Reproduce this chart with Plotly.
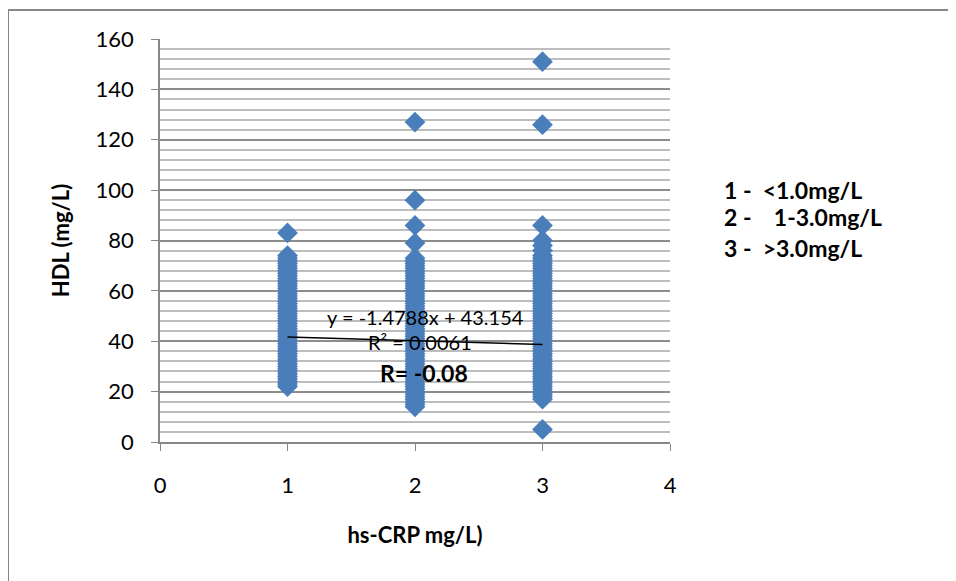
import plotly.graph_objects as go

# hs-CRP group codes
group_codes = [1, 2, 3]

# HDL values (mg/L) read per group
hdl_group1 = [83, 74, 73, 72, 71, 70, 69, 68, 67, 66, 65, 64, 63, 62, 61, 60, 59, 58, 57, 56,
              55, 54, 53, 52, 51, 50, 49, 48, 47, 46, 45, 44, 43, 42, 41, 40, 39, 38, 37, 36,
              35, 34, 33, 32, 31, 30, 29, 28, 27, 26, 25, 24, 23, 22]
hdl_group2 = [127, 96, 86, 79, 73, 72, 71, 70, 69, 68, 67, 66, 65, 64, 63, 62, 61, 60, 59, 58,
              57, 56, 55, 54, 53, 52, 51, 50, 49, 48, 47, 46, 45, 44, 43, 42, 41, 40, 39, 38,
              37, 36, 35, 34, 33, 32, 31, 30, 29, 28, 27, 26, 25, 24, 23, 22, 21, 20, 19, 18,
              17, 16, 15, 14]
hdl_group3 = [151, 126, 86, 80, 78, 76, 74, 73, 72, 71, 70, 69, 68, 67, 66, 65, 64, 63, 62, 61,
              60, 59, 58, 57, 56, 55, 54, 53, 52, 51, 50, 49, 48, 47, 46, 45, 44, 43, 42, 41,
              40, 39, 38, 37, 36, 35, 34, 33, 32, 31, 30, 29, 28, 27, 26, 25, 24, 23, 22, 21,
              20, 19, 18, 17, 5]

# Linear trendline shown on the chart
trend_slope = -1.4788
trend_intercept = 43.154
trend_x = [1, 3]

legend_lines = ["1 -  &lt;1.0mg/L", "2 -    1-3.0mg/L", "3 -  &gt;3.0mg/L"]

xs, ys = [], []
for code, vals in zip(group_codes, [hdl_group1, hdl_group2, hdl_group3]):
    xs += [code] * len(vals)
    ys += vals

FONT = "Lato, 'Open Sans', sans-serif"
BLUE = "#4A7EBB"

fig = go.Figure()
fig.add_trace(go.Scatter(
    x=xs, y=ys, mode="markers",
    marker=dict(symbol="diamond", size=16, color=BLUE, line=dict(width=0)),
    showlegend=False, hoverinfo="x+y"))
fig.add_trace(go.Scatter(
    x=trend_x, y=[trend_slope * v + trend_intercept for v in trend_x],
    mode="lines", line=dict(color="black", width=1.5), showlegend=False))

annos = [
    dict(x=2.08, y=49.7, text="y = -1.4788x + 43.154", size=20),
    dict(x=2.04, y=39.7, text="R² = 0.0061", size=20),
    dict(x=2.07, y=27.4, text="<b>R= -0.08</b>", size=23),
]
for a in annos:
    fig.add_annotation(xref="x", yref="y", showarrow=False, xanchor="center", yanchor="middle",
                       font=dict(family=FONT, color="black", size=a["size"]),
                       x=a["x"], y=a["y"], text=a["text"])

for txt, yv in zip(legend_lines, [100.1, 89.4, 77.1]):
    fig.add_annotation(xref="paper", yref="y", x=1.102, y=yv, xanchor="left", yanchor="middle",
                       showarrow=False, text="<b>" + txt + "</b>",
                       font=dict(family=FONT, size=23, color="black"))

# Outer chart border (top and left visible)
fig.add_shape(type="line", xref="paper", yref="paper", x0=-0.298, x1=1.6, y0=1.072, y1=1.072,
              line=dict(color="#878787", width=2))
fig.add_shape(type="line", xref="paper", yref="paper", x0=-0.298, x1=-0.298, y0=1.072, y1=-0.4,
              line=dict(color="#878787", width=2))

fig.update_layout(
    width=956, height=581,
    margin=dict(l=152, r=294, t=31, b=147),
    paper_bgcolor="white", plot_bgcolor="white",
    font=dict(family=FONT, color="black"),
    xaxis=dict(range=[0, 4], dtick=1, tick0=0, showgrid=False, zeroline=False,
               showline=True, linecolor="#868686", linewidth=1.5,
               ticks="outside", ticklen=7, tickcolor="#868686",
               tickfont=dict(size=22, family=FONT), ticklabelstandoff=16,
               title=dict(text="<b>hs-CRP mg/L)</b>", font=dict(size=22, family=FONT), standoff=30)),
    yaxis=dict(range=[0, 160], dtick=20, tick0=0, showgrid=True, gridcolor="#8c8c8c", gridwidth=1.5,
               zeroline=False, showline=True, linecolor="#868686", linewidth=1.5,
               ticks="outside", ticklen=7, tickcolor="#868686",
               tickfont=dict(size=22, family=FONT), ticklabelstandoff=13,
               minor=dict(dtick=4, showgrid=True, gridcolor="#bdbdbd", gridwidth=1.5),
               title=dict(text="<b>HDL (mg/L)</b>", font=dict(size=22, family=FONT), standoff=20)),
)

fig.write_html("out.html")
